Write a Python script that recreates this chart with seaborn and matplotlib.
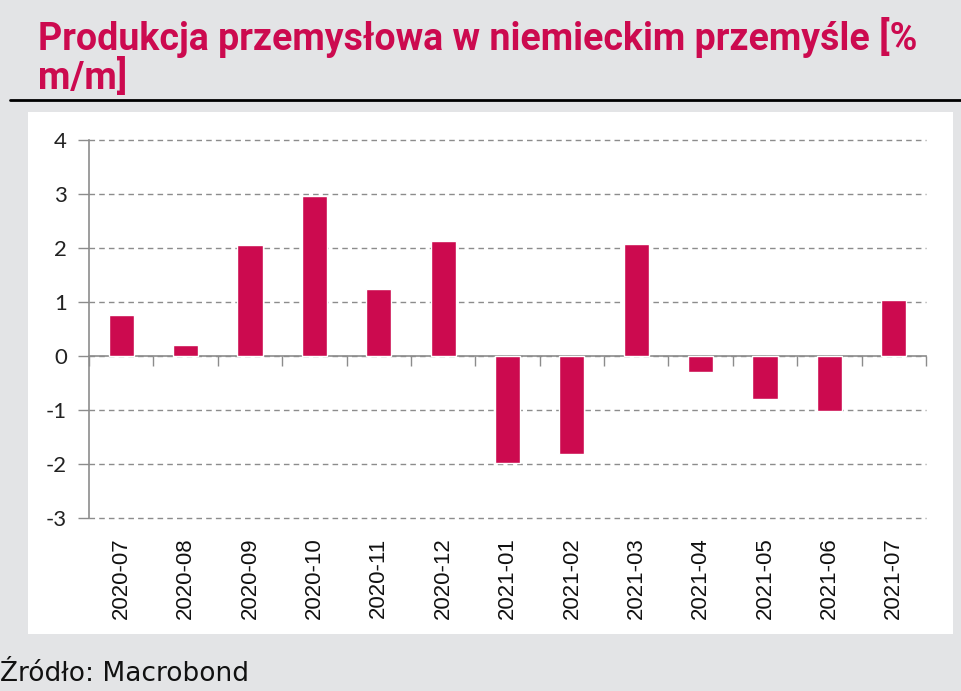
import matplotlib
matplotlib.use("Agg")
import matplotlib.pyplot as plt
import seaborn as sns
import pandas as pd
from matplotlib.patches import Rectangle
from matplotlib.lines import Line2D

# ---- data ----
months = ["2020-07", "2020-08", "2020-09", "2020-10", "2020-11", "2020-12",
          "2021-01", "2021-02", "2021-03", "2021-04", "2021-05", "2021-06", "2021-07"]
values = [0.76, 0.20, 2.05, 2.96, 1.24, 2.13, -1.98, -1.81, 2.07, -0.30, -0.80, -1.02, 1.03]
yticks = [-3, -2, -1, 0, 1, 2, 3, 4]
title = "Produkcja przemysłowa w niemieckim przemyśle [%\nm/m]"
source = "Źródło: Macrobond"

BAR = "#cc0a4f"
GRAY = "#8c8c8c"
W, H = 961, 691

sns.set_theme(style="white")
plt.rcParams["axes.unicode_minus"] = False
fig = plt.figure(figsize=(W / 100, H / 100), dpi=100)
fig.patch.set_facecolor("#e3e4e6")

# white panel
fig.patches.append(Rectangle((28 / W, 1 - 634 / H), (953 - 28) / W, (634 - 112) / H,
                             transform=fig.transFigure, facecolor="white",
                             edgecolor="none", zorder=-5))
# black rule under title
fig.add_artist(Line2D([10 / W, 1.0], [1 - 100 / H, 1 - 100 / H],
                      transform=fig.transFigure, color="black", lw=2))

fig.text(38 / W, 1 - 17 / H, title, color=BAR, fontsize=27, fontweight="bold",
         family=["Roboto", "DejaVu Sans"], va="top", ha="left",
         linespacing=1.0)
fig.text(0 / W, 1 - 681 / H, source, color="#111111", fontsize=19,
         family=["DejaVu Sans"], va="baseline", ha="left")

ax = fig.add_axes([89 / W, 1 - 518 / H, (926 - 89) / W, (518 - 140) / H])
ax.set_zorder(2)
ax.set_facecolor("none")

df = pd.DataFrame({"month": months, "value": values})
sns.barplot(data=df, x="month", y="value", color=BAR, saturation=1, width=0.39,
            ax=ax, zorder=3)

ymin, ymax = yticks[0], yticks[-1]
ax.set_ylim(ymin, ymax)
ax.set_xlim(-0.5, len(months) - 0.5)
ax.set_yticks(yticks)
ax.set_xlabel("")
ax.set_ylabel("")

ax.yaxis.grid(True, linestyle=(0, (4, 3)), color=GRAY, lw=1)
ax.xaxis.grid(False)
ax.set_axisbelow(True)
for gl in ax.get_ygridlines():
    gl.set_clip_on(False)

for s in ["top", "right", "bottom"]:
    ax.spines[s].set_visible(False)
ax.spines["left"].set_color(GRAY)
ax.spines["left"].set_linewidth(1.2)
ax.spines["left"].set_zorder(4)

ax.tick_params(axis="y", direction="out", length=8, width=1, color=GRAY, pad=8,
               labelsize=16, labelcolor="#222222", left=True)
for lab in ax.get_yticklabels():
    lab.set_family(["Lato", "DejaVu Sans"])
ax.tick_params(axis="x", length=0, pad=14, labelsize=16, labelcolor="#111111",
               labelrotation=90)
for lab in ax.get_xticklabels():
    lab.set_family(["Liberation Sans", "DejaVu Sans"])

# zero axis line with boundary ticks
zero_frac = (0 - ymin) / (ymax - ymin)
sec = ax.secondary_xaxis(zero_frac)
sec.set_xticks([i - 0.5 for i in range(len(months) + 1)])
sec.tick_params(axis="x", direction="out", length=7, width=1, color=GRAY,
                labelbottom=False, labeltop=False)
for s in sec.spines.values():
    s.set_color(GRAY)
    s.set_linewidth(1.2)

fig.savefig("out.png", dpi=100, facecolor=fig.get_facecolor())
